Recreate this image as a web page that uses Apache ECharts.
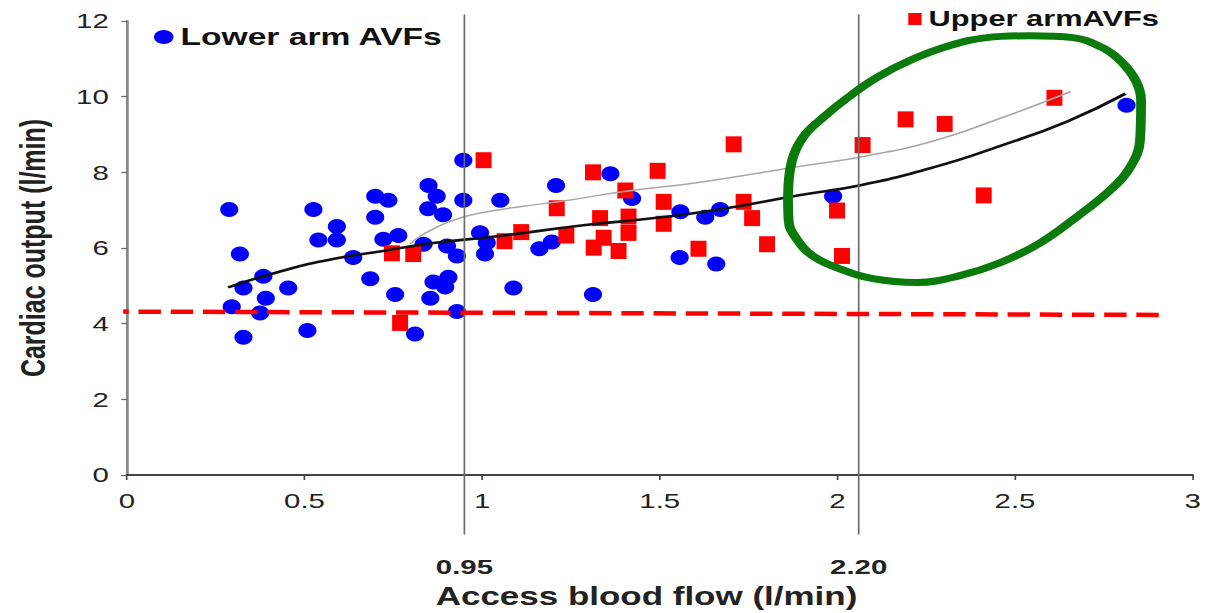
<!DOCTYPE html>
<html>
<head>
<meta charset="utf-8">
<script src="https://cdn.jsdelivr.net/npm/echarts@6/dist/echarts.min.js"></script>
<style>
html,body{margin:0;padding:0;background:#fff;overflow:hidden;}
#c{width:861px;height:613px;transform:scaleX(1.3995);transform-origin:0 0;}
</style>
</head>
<body>
<div id="c"></div>
<script>
// ---- data (x = access blood flow l/min, y = cardiac output l/min) ----
const lowerArm = [
[0.288,7.02],[0.525,7.02],[0.318,5.84],[0.591,6.57],[0.539,6.21],[0.591,6.21],[0.699,7.37],[0.736,7.26],
[0.699,6.81],[0.722,6.23],[0.764,6.33],[0.637,5.75],[0.384,5.25],[0.328,4.94],[0.454,4.94],[0.391,4.67],
[0.295,4.45],[0.375,4.28],[0.328,3.64],[0.508,3.82],[0.685,5.19],[0.755,4.77],[0.811,3.73],[0.854,4.67],
[0.863,5.10],[0.905,5.23],[0.896,4.97],[0.929,4.32],[0.947,8.32],[0.849,7.65],[0.872,7.37],[0.947,7.26],
[0.848,7.04],[0.890,6.88],[0.835,6.10],[0.901,6.05],[0.929,5.79],[0.994,6.40],[1.013,6.14],[1.008,5.84],
[1.051,7.26],[1.208,7.65],[1.361,7.96],[1.422,7.31],[1.088,4.94],[1.161,5.98],[1.196,6.16],[1.312,4.77],
[1.558,6.96],[1.628,6.81],[1.670,7.02],[1.556,5.75],[1.659,5.58],[1.988,7.37],[2.814,9.77]
];
const upperArm = [
[1.004,8.32],[0.746,5.86],[0.806,5.84],[0.769,4.02],[1.312,8.00],[1.494,8.04],[1.708,8.74],[1.403,7.52],
[1.210,7.05],[1.511,7.22],[1.063,6.18],[1.110,6.42],[1.237,6.33],[1.332,6.79],[1.412,6.83],[1.412,6.40],
[1.342,6.27],[1.314,6.01],[1.384,5.92],[1.511,6.64],[1.609,5.98],[1.736,7.22],[1.760,6.79],[1.802,6.10],
[2.071,8.72],[2.192,9.40],[2.302,9.28],[2.611,9.97],[2.412,7.39],[1.999,6.99],[2.013,5.79]
];
const fitAll = [
[0.285,4.96],[0.439,5.40],[0.580,5.71],[0.721,5.92],[0.862,6.13],[1.042,6.31],[1.285,6.60],[1.473,6.78],
[1.662,7.01],[1.896,7.40],[2.065,7.66],[2.270,8.13],[2.459,8.70],[2.648,9.35],[2.811,10.08]
];
const fitUpper = [
[0.797,6.10],[0.825,6.31],[0.918,6.73],[1.014,6.96],[1.107,7.09],[1.248,7.27],[1.389,7.48],[1.614,7.74],
[1.896,8.16],[2.085,8.44],[2.270,8.83],[2.459,9.43],[2.656,10.13]
];
const thresholdLine = [[-0.058,4.32],[2.924,4.23]];
const cutoffs = [0.95, 2.06];
const cutoffLabels = ['0.95', '2.20'];
const cutoffSpan = [-1.56, 12.16];
const highlightOutline = [
[1.861,7.35],[1.872,8.30],[1.905,8.95],[1.960,9.45],[2.030,9.98],[2.110,10.50],[2.210,10.98],[2.317,11.35],
[2.420,11.56],[2.542,11.61],[2.663,11.56],[2.745,11.30],[2.800,10.92],[2.840,10.42],[2.855,9.90],[2.852,8.85],
[2.824,8.13],[2.768,7.53],[2.675,6.83],[2.570,6.13],[2.458,5.61],[2.345,5.27],[2.224,5.09],[2.100,5.19],
[2.007,5.45],[1.931,5.79],[1.886,6.23],[1.863,6.70],[1.861,7.35]
];
const xTicks = {min:0, max:3, step:0.5};
const yTicks = {min:0, max:12, step:2};

const chart = echarts.init(document.getElementById('c'), null, {renderer:'svg'});
const FONT = 'Liberation Sans, Arial, sans-serif';

const cutoffSeries = cutoffs.map((v,i)=>({
  type:'line', silent:true, clip:false, z:3, symbol:'circle', symbolSize:1, showSymbol:true,
  itemStyle:{color:'#6a6a6a'},
  lineStyle:{color:'#6a6a6a', width:1.2},
  data:[
    {value:[v,cutoffSpan[0]], label:{show:true, position:'bottom', distance:22, formatter:cutoffLabels[i],
      fontFamily:FONT, fontWeight:'bold', fontSize:21, color:'#222'}},
    {value:[v,cutoffSpan[1]], label:{show:false}}
  ]
}));

chart.setOption({
  animation:false,
  backgroundColor:'#fff',
  grid:{left:90.7, top:21, width:762.4, height:462, containLabel:false},
  legend:[
    {data:['Lower arm AVFs'], left:110, top:25, padding:0, icon:'circle', itemWidth:14, itemHeight:15,
     textStyle:{fontFamily:FONT, fontWeight:'bold', fontSize:24, color:'#111'}},
    {data:['Upper armAVFs'], left:649, top:8, padding:0, icon:'rect', itemWidth:9.5, itemHeight:12,
     textStyle:{fontFamily:FONT, fontWeight:'bold', fontSize:22, color:'#111'}}
  ],
  xAxis:{
    type:'value', min:xTicks.min, max:xTicks.max, interval:xTicks.step,
    name:'Access blood flow (l/min)', nameLocation:'middle', nameGap:108,
    nameTextStyle:{fontFamily:FONT, fontWeight:'bold', fontSize:25, color:'#222', padding:[0,19,0,0]},
    axisLine:{show:true, lineStyle:{color:'#444', width:2}},
    axisTick:{show:true, length:5, lineStyle:{color:'#444', width:1.2}},
    axisLabel:{margin:15, fontFamily:FONT, fontSize:21, color:'#222'},
    splitLine:{show:false}
  },
  yAxis:{
    type:'value', min:yTicks.min, max:yTicks.max, interval:yTicks.step,
    name:'Cardiac output (l/min)', nameLocation:'middle', nameGap:55, nameRotate:90,
    nameTextStyle:{fontFamily:FONT, fontWeight:'bold', fontSize:25, color:'#222'},
    axisLine:{show:true, lineStyle:{color:'#888', width:2}},
    axisTick:{show:true, length:4, lineStyle:{color:'#666', width:1.2}},
    axisLabel:{margin:13, fontFamily:FONT, fontSize:21, color:'#222'},
    splitLine:{show:false}
  },
  series:[
    {name:'Lower arm AVFs', type:'scatter', z:2, symbol:'circle', symbolSize:[13,15],
     itemStyle:{color:'#0000ff', opacity:1}, data:lowerArm},
    {name:'Upper armAVFs', type:'scatter', z:2, symbol:'rect', symbolSize:[11.4,16],
     itemStyle:{color:'#ff0000', opacity:1}, data:upperArm},
    {type:'line', silent:true, z:3, symbol:'none', smooth:0.5,
     lineStyle:{color:'#a8a8a8', width:1.5}, data:fitUpper},
    {type:'line', silent:true, z:3, symbol:'none', smooth:0.5,
     lineStyle:{color:'#111', width:2.6}, data:fitAll},
    {type:'line', silent:true, clip:false, z:4, symbol:'none',
     lineStyle:{color:'#ff0000', width:4.5, type:[16,7]}, data:thresholdLine},
    ...cutoffSeries,
    {type:'line', silent:true, clip:false, z:5, symbol:'none', smooth:0.4,
     lineStyle:{color:'#0a7a0a', width:7}, data:highlightOutline}
  ]
});
</script>
</body>
</html>
